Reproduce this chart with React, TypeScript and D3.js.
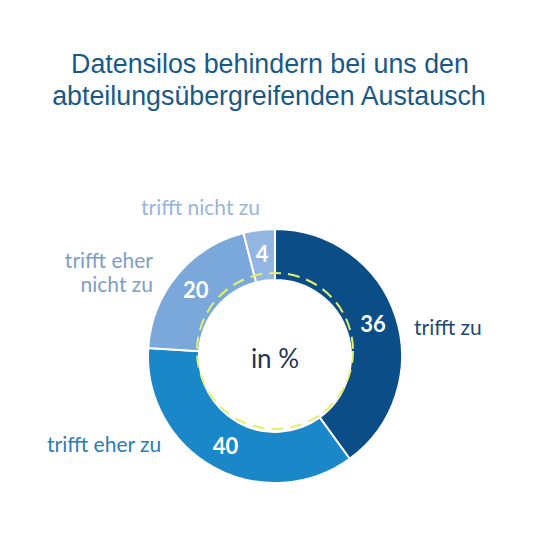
import React from "react";
import * as d3 from "d3";

// Data
const titleLines = ["Datensilos behindern bei uns den", "abteilungsübergreifenden Austausch"];
const categories = ["trifft zu", "trifft eher zu", "trifft eher nicht zu", "trifft nicht zu"];
const valueLabels = [36, 40, 20, 4]; // printed numbers
const sliceShares = [40, 36, 20, 4]; // shares as drawn by the arcs in the picture
const centerLabel = "in %";

const sliceColors = ["#0b4d86", "#1a87c9", "#7ba8da", "#92b5e1"];
const labelColors = ["#1e4a72", "#2a7db4", "#7d9ec6", "#9ab5da"];

const W = 540;
const H = 540;
const cx = 275;
const cy = 356;
const outerR = 127;
const innerR = 76;

export default function App() {
  const pie = d3
    .pie<number>()
    .sort(null)
    .value((d) => d);
  const arcs = pie(sliceShares);
  const arcGen = d3
    .arc<d3.PieArcDatum<number>>()
    .innerRadius(innerR)
    .outerRadius(outerR);
  const labelArc = d3
    .arc<d3.PieArcDatum<number>>()
    .innerRadius(103)
    .outerRadius(103);

  const font = "Lato, 'Open Sans', sans-serif";

  return (
    <svg
      width={W}
      height={H}
      viewBox={`0 0 ${W} ${H}`}
      style={{ position: "absolute", left: 0, top: 0, background: "#fff" }}
    >
      <g fontFamily="'Liberation Sans', Arial, sans-serif" fontSize={26.8} fill="#175a86" textAnchor="middle">
        <text x={270} y={73}>{titleLines[0]}</text>
        <text x={269} y={105}>{titleLines[1]}</text>
      </g>
      <g transform={`translate(${cx},${cy})`}>
        {arcs.map((a, i) => (
          <path key={i} d={arcGen(a) || ""} fill={sliceColors[i]} stroke="#fff" strokeWidth={2} />
        ))}
        <circle
          cy={-5}
          r={78}
          fill="none"
          stroke="#e4f06a"
          strokeWidth={2}
          strokeDasharray="12 7"
        />
        {arcs.map((a, i) => {
          const [x, y] = labelArc.centroid(a);
          return (
            <text
              key={"v" + i}
              x={x}
              y={y}
              dy="0.36em"
              textAnchor="middle"
              fontFamily={font}
              fontWeight="bold"
              fontSize={22}
              fill="#fff"
            >
              {valueLabels[i]}
            </text>
          );
        })}
        <text y={12} textAnchor="middle" fontFamily={font} fontSize={26} fill="#1b3652">
          {centerLabel}
        </text>
      </g>
      <g fontFamily={font} fontSize={21}>
        <text x={414} y={335} fill={labelColors[0]}>{categories[0]}</text>
        <text x={47} y={452} fill={labelColors[1]}>{categories[1]}</text>
        <text x={153} y={268} textAnchor="end" fill={labelColors[2]}>trifft eher</text>
        <text x={153} y={292} textAnchor="end" fill={labelColors[2]}>nicht zu</text>
        <text x={141} y={215} fill={labelColors[3]}>{categories[3]}</text>
      </g>
    </svg>
  );
}
